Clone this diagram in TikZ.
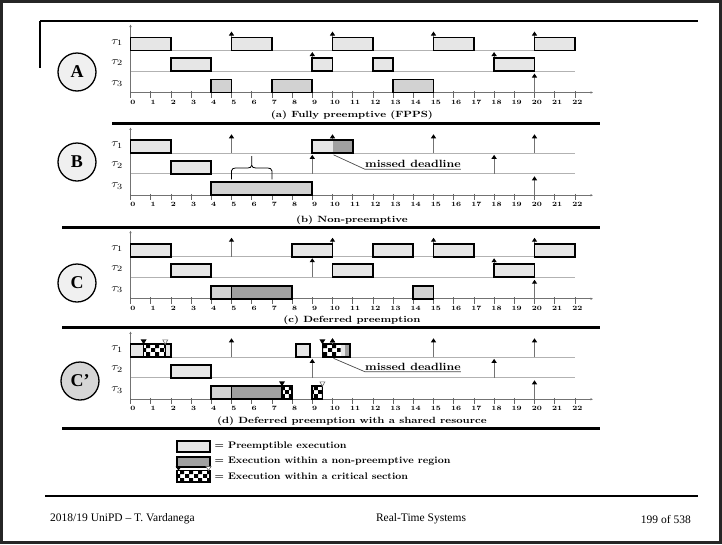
\documentclass[tikz,border=0pt]{standalone}
\usepackage{fontspec}
\usepackage{graphicx}
\newfontfamily\footfont{Liberation Serif}
\usetikzlibrary{arrows.meta,patterns}
\pgfdeclarepatternformonly{chk}{\pgfqpoint{0pt}{0pt}}{\pgfqpoint{8.4pt}{8.4pt}}{\pgfqpoint{8.4pt}{8.4pt}}{%
 \pgfpathrectangle{\pgfqpoint{0pt}{0pt}}{\pgfqpoint{4.2pt}{4.2pt}}%
 \pgfpathrectangle{\pgfqpoint{4.2pt}{4.2pt}}{\pgfqpoint{4.2pt}{4.2pt}}%
 \pgfusepath{fill}}
\definecolor{cone}{HTML}{E6E6E6}
\definecolor{cthree}{HTML}{D2D2D2}
\definecolor{cdark}{HTML}{A0A0A0}
\definecolor{ccirc}{HTML}{F0F0F0}
\definecolor{ccircb}{HTML}{D6D6D6}
\newcommand\sx[1]{\scalebox{1.2}[1]{#1}}
\newcommand\jb[4]{\draw[job,fill=#4] (#1,#3) rectangle (#2,#3-13);}
\newcommand\rl[2]{\draw[relarrow] (#1,#2) -- (#1,#2-19);}
\newcommand\chkfill[3]{\fill[white] (#1,#3) rectangle (#2,#3-13); \fill[pattern=chk] (#1,#3) rectangle (#2,#3-13);}
\newcommand\lockat[2]{\fill[black] (#1,#2-13) -- ++(-3pt,5pt) -- ++(6pt,0pt) -- cycle;}
\newcommand\unlockat[2]{\draw[unlock] (#1,#2-13) -- ++(-2.5pt,4.5pt) -- ++(5pt,0pt) -- cycle;}
\newcommand\skel[1]{%
 \draw[rowline] (0,0) -- (22,0);
 \draw[rowline] (0,20.5) -- (22,20.5);
 \draw[axisl, -{Latex[length=2.5pt,width=2.5pt]}] (0,42) -- (22.9,42);
 \draw[axisl, -{Latex[length=2.5pt,width=2.5pt]}] (0,42) -- (0,-26);
 \foreach \i in {0,...,22}{\draw[tickl] (\i,40.5) -- (\i,47); \node[ticklab] (tk#1\i) at (\i+0.12,51.5) {\sx{\i}};}
 \node[taulab] (ta#1) at (-0.66,-8) {\sx{$\tau_1$}};
 \node[taulab] (tb#1) at (-0.66,12) {\sx{$\tau_2$}};
 \node[taulab] (tc#1) at (-0.66,33) {\sx{$\tau_3$}};
 \rl{5}{0}\rl{10}{0}\rl{15}{0}\rl{20}{0}\rl{9}{20.5}\rl{18}{20.5}\rl{20}{42}
}
\tikzset{
 job/.style={draw=black, line width=1.8pt},
 rowline/.style={draw=black!30, line width=0.9pt},
 axisl/.style={draw=black!55, line width=0.9pt},
 tickl/.style={draw=black!60, line width=0.8pt},
 relarrow/.style={draw=black!55, line width=1pt, -{Triangle[length=4pt,width=5pt,color=black]}},
 ticklab/.style={font=\bfseries\fontsize{6.5}{6.5}\selectfont, inner sep=0},
 taulab/.style={font=\fontsize{11}{11}\selectfont, inner sep=0},
 capt/.style={font=\bfseries\fontsize{9}{9}\selectfont, inner sep=0},
 mdl/.style={font=\bfseries\fontsize{10.5}{10.5}\selectfont, inner xsep=0, inner ysep=1.5pt},
 sepline/.style={line width=3pt, draw=black},
 circ/.style={circle, draw=black, line width=1.3pt, minimum size=38pt, inner sep=0, font=\footfont\bfseries\fontsize{18}{18}\selectfont},
 unlock/.style={fill=white, draw=black!60, line width=0.6pt},
 legt/.style={font=\bfseries\fontsize{9.5}{9.5}\selectfont, inner sep=0, anchor=west},
 foot/.style={font=\footfont\fontsize{11.5}{11.5}\selectfont, inner sep=0},
}
\begin{document}
\begin{tikzpicture}[x=1pt,y=-1pt]
\useasboundingbox (0,0) rectangle (722,544);
\fill[white] (0,0) rectangle (722,544);
% slide frame
\draw[line width=2.5pt, draw=black!85] (1.5,1.5) rectangle (720.5,542.5);
\draw[line width=1.5pt] (40,21) -- (698,21);
\draw[line width=1.5pt] (40,21) -- (40,68);
% separators
\draw[sepline] (112,123) -- (600,123);
\draw[sepline] (62,227.5) -- (600,227.5);
\draw[sepline] (62,327) -- (600,327);
\draw[sepline] (62,428) -- (600,428);
\draw[line width=2pt] (45,496) -- (698,496);

% ---------------- panel a
\begin{scope}[shift={(130.5,50.5)}, x=20.2pt]
 \skel{a}
 \jb{0}{2}{0}{cone}\jb{5}{7}{0}{cone}\jb{10}{12}{0}{cone}\jb{15}{17}{0}{cone}\jb{20}{22}{0}{cone}
 \jb{2}{4}{20.5}{cone}\jb{9}{10}{20.5}{cone}\jb{12}{13}{20.5}{cone}\jb{18}{20}{20.5}{cone}
 \jb{4}{5}{42}{cthree}\jb{7}{9}{42}{cthree}\jb{13}{15}{42}{cthree}
 \node[capt] (capa) at (10.96,64.5) {\sx{(a) Fully preemptive (FPPS)}};
\end{scope}

% ---------------- panel b
\begin{scope}[shift={(130.5,153.3)}, x=20.2pt]
 \skel{b}
 \jb{0}{2}{0}{cone}
 \fill[cone] (9,0) rectangle (10,-13); \fill[cdark] (10,0) rectangle (11,-13);
 \draw[job] (9,0) rectangle (11,-13);
 \jb{2}{4}{20.5}{cone}
 \jb{4}{9}{42}{cthree}
 \draw[line width=0.8pt] (5,26) -- (5,17.5) to[out=90,in=180] (5.2,14.7) -- (5.8,14.7) to[out=0,in=-90] (6,12) -- (6,2.7);
 \draw[line width=0.8pt] (7,26) -- (7,17.5) to[out=90,in=0] (6.8,14.7) -- (6.2,14.7) to[out=180,in=-90] (6,12);
 \node[mdl, anchor=south west] (mdb) at (11.61,16) {\scalebox{1.15}[1]{missed deadline}};
 \coordinate (lb) at (10.05,1.5);
 \draw[black!70, line width=0.7pt] (lb) -- (mdb.south west) -- (mdb.south east);
 \node[capt] (capb) at (10.96,66.7) {\sx{(b) Non-preemptive}};
\end{scope}

% ---------------- panel c
\begin{scope}[shift={(130.5,256.7)}, x=20.2pt]
 \skel{c}
 \jb{0}{2}{0}{cone}\jb{8}{10}{0}{cone}\jb{12}{14}{0}{cone}\jb{15}{17}{0}{cone}\jb{20}{22}{0}{cone}
 \jb{2}{4}{20.5}{cone}\jb{10}{12}{20.5}{cone}\jb{18}{20}{20.5}{cone}
 \fill[cthree] (4,42) rectangle (5,29); \fill[cdark] (5,42) rectangle (8,29);
 \draw[job] (4,42) rectangle (8,29); \draw[line width=1.2pt] (5,42) -- (5,29);
 \jb{14}{15}{42}{cthree}
 \node[capt] (capc) at (10.96,63.5) {\sx{(c) Deferred preemption}};
\end{scope}

% ---------------- panel d
\begin{scope}[shift={(130.5,357.3)}, x=20.2pt]
 \skel{d}
 \fill[cone] (0,0) rectangle (0.65,-13);
 \chkfill{0.65}{1.72}{0}
 \fill[cone] (1.72,0) rectangle (2,-13);
 \draw[job] (0,0) rectangle (2,-13);
 \draw[line width=0.8pt] (0.65,0) -- (0.65,-13) (1.72,0) -- (1.72,-13);
 \lockat{0.65}{0}\unlockat{1.72}{0}
 \jb{8.2}{8.9}{0}{cone}
 \chkfill{9.5}{10.4}{0}
 \fill[cone] (10.4,0) rectangle (10.6,-13); \fill[cdark] (10.6,0) rectangle (10.85,-13);
 \draw[job] (9.5,0) rectangle (10.85,-13);
 \lockat{9.5}{0}
 \draw[relarrow] (10,-13) -- (10,-19);
 \jb{2}{4}{20.5}{cone}
 \fill[cthree] (4,42) rectangle (5,29); \fill[cdark] (5,42) rectangle (7.5,29);
 \chkfill{7.5}{8}{42}
 \draw[job] (4,42) rectangle (8,29);
 \draw[line width=1.2pt] (5,42) -- (5,29); \draw[line width=1.2pt] (7.5,42) -- (7.5,29);
 \lockat{7.5}{42}
 \chkfill{9}{9.5}{42}
 \draw[job] (9,42) rectangle (9.5,29);
 \unlockat{9.5}{42}
 \node[mdl, anchor=south west] (mdd) at (11.61,14.5) {\scalebox{1.15}[1]{missed deadline}};
 \coordinate (ld) at (10.05,1);
 \draw[black!70, line width=0.7pt] (ld) -- (mdd.south west) -- (mdd.south east);
 \node[capt] (capd) at (10.96,64.4) {\sx{(d) Deferred preemption with a shared resource}};
\end{scope}

% circles
\node[circ, fill=ccirc] (cA) at (77,72) {A};
\node[circ, fill=ccirc] (cB) at (77,162) {B};
\node[circ, fill=ccirc] (cC) at (77,283) {C};
\node[circ, fill=ccircb] (cCp) at (80,381) {C’};

% legend
\draw[job, fill=cone] (176.7,440.7) rectangle (210,451.7);
\draw[job, fill=cdark] (176.7,456.7) rectangle (210,466.7);
\fill[white] (176.7,470.5) rectangle (210,482);
\fill[pattern=chk] (176.7,470.5) rectangle (210,482);
\draw[job] (176.7,470.5) rectangle (210,482);
\fill[black] (178.5,470.5) -- ++(-3pt,4pt) -- ++(6pt,0pt) -- cycle;
\draw[unlock] (208.5,470.5) -- ++(-2.5pt,4pt) -- ++(5pt,0pt) -- cycle;
\node[legt] (l1) at (214.5,446) {\scalebox{1.1}[1]{= Preemptible execution}};
\node[legt] (l2) at (214.5,461.5) {\scalebox{1.1}[1]{= Execution within a non-preemptive region}};
\node[legt] (l3) at (214.5,476.5) {\scalebox{1.1}[1]{= Execution within a critical section}};

% footer
\node[foot, anchor=west] (f1) at (50,519) {2018/19 UniPD – T. Vardanega};
\node[foot] (f2) at (421,519) {Real-Time Systems};
\node[foot, anchor=east] (f3) at (691,519) {199 of 538};
\end{tikzpicture}
\end{document}
